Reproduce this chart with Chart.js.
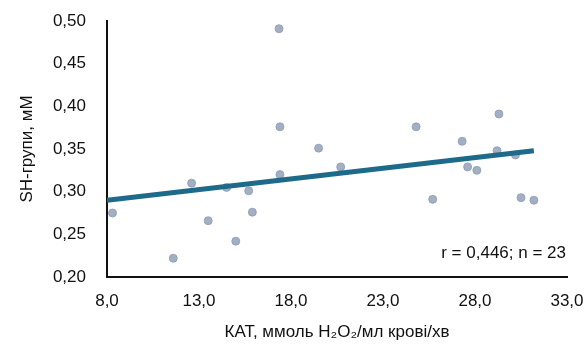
<!DOCTYPE html>
<html><head><meta charset="utf-8">
<script src="https://cdn.jsdelivr.net/npm/chart.js@4.4.0/dist/chart.umd.min.js"></script>
<style>html,body{margin:0;padding:0;background:#fff}#wrap{width:586px;height:350px}</style>
</head><body><div id="wrap"><canvas id="c" width="586" height="350"></canvas></div>
<script>
const katX = [8.3, 11.6, 12.6, 13.5, 14.5, 15.0, 15.7, 15.9, 17.4, 17.35, 17.4, 19.5, 20.7, 24.8, 25.7, 27.3, 27.6, 28.1, 29.3, 29.2, 30.2, 30.5, 31.2];
const shY  = [0.275, 0.222, 0.310, 0.266, 0.305, 0.242, 0.301, 0.276, 0.320, 0.491, 0.376, 0.351, 0.329, 0.376, 0.291, 0.359, 0.329, 0.325, 0.391, 0.348, 0.343, 0.293, 0.290];
const trendX = [8.0, 31.2];
const trendY = [0.290, 0.348];
const xTicks = [8, 13, 18, 23, 28, 33];
const yTicks = [0.20, 0.25, 0.30, 0.35, 0.40, 0.45, 0.50];
const annotation = 'r = 0,446; n = 23';

const FONT = "'Liberation Sans Narrow', 'Liberation Sans', Arial, sans-serif";
const fmt = (v, d) => v.toFixed(d).replace('.', ',');

const annot = {
  id: 'annot',
  afterDatasetsDraw(chart) {
    const {ctx, chartArea} = chart;
    ctx.save();
    ctx.font = "17px " + FONT;
    ctx.fillStyle = '#111';
    ctx.textAlign = 'right';
    ctx.textBaseline = 'middle';
    ctx.fillText(annotation, chartArea.right - 1, chartArea.bottom - 24);
    ctx.restore();
  }
};

new Chart(document.getElementById('c'), {
  type: 'scatter',
  data: {
    datasets: [
      {
        type: 'line',
        data: trendX.map((x, i) => ({x, y: trendY[i]})),
        borderColor: '#1d6a8a',
        borderWidth: 5,
        pointRadius: 0,
        fill: false,
        order: 0
      },
      {
        data: katX.map((x, i) => ({x, y: shY[i]})),
        backgroundColor: 'rgba(140,155,180,0.8)',
        borderColor: 'rgba(140,155,180,0.8)',
        pointRadius: 4,
        order: 1
      }
    ]
  },
  options: {
    responsive: false,
    animation: false,
    devicePixelRatio: 1,
    layout: {padding: {top: 21, right: 19, left: 0, bottom: 0}},
    plugins: {legend: {display: false}, tooltip: {enabled: false}},
    scales: {
      x: {
        type: 'linear', min: 8, max: 33,
        afterBuildTicks: s => { s.ticks = xTicks.map(v => ({value: v})); },
        afterFit: s => { s.height = 73; s.paddingLeft = 0; s.paddingRight = 0; },
        grid: {display: false, drawTicks: false},
        border: {color: '#111', width: 2},
        ticks: {color: '#111', font: {family: FONT, size: 17}, padding: 14, maxRotation: 0, callback: v => fmt(v, 1)},
        title: {display: true, text: 'КАТ, ммоль H₂O₂/мл крові/хв', color: '#111', font: {family: FONT, size: 17}, padding: {top: 0, bottom: 7}}
      },
      y: {
        type: 'linear', min: 0.2, max: 0.5,
        afterBuildTicks: s => { s.ticks = yTicks.map(v => ({value: v})); },
        afterFit: s => { s.width = 107; s.paddingTop = 0; s.paddingBottom = 0; },
        grid: {display: false, drawTicks: false},
        border: {color: '#111', width: 2},
        ticks: {color: '#111', font: {family: FONT, size: 17}, padding: 21, callback: v => fmt(v, 2)},
        title: {display: true, text: 'SH-групи, мМ', color: '#111', font: {family: FONT, size: 17}, padding: {top: 17, bottom: 4}}
      }
    }
  },
  plugins: [annot]
});
</script></body></html>
